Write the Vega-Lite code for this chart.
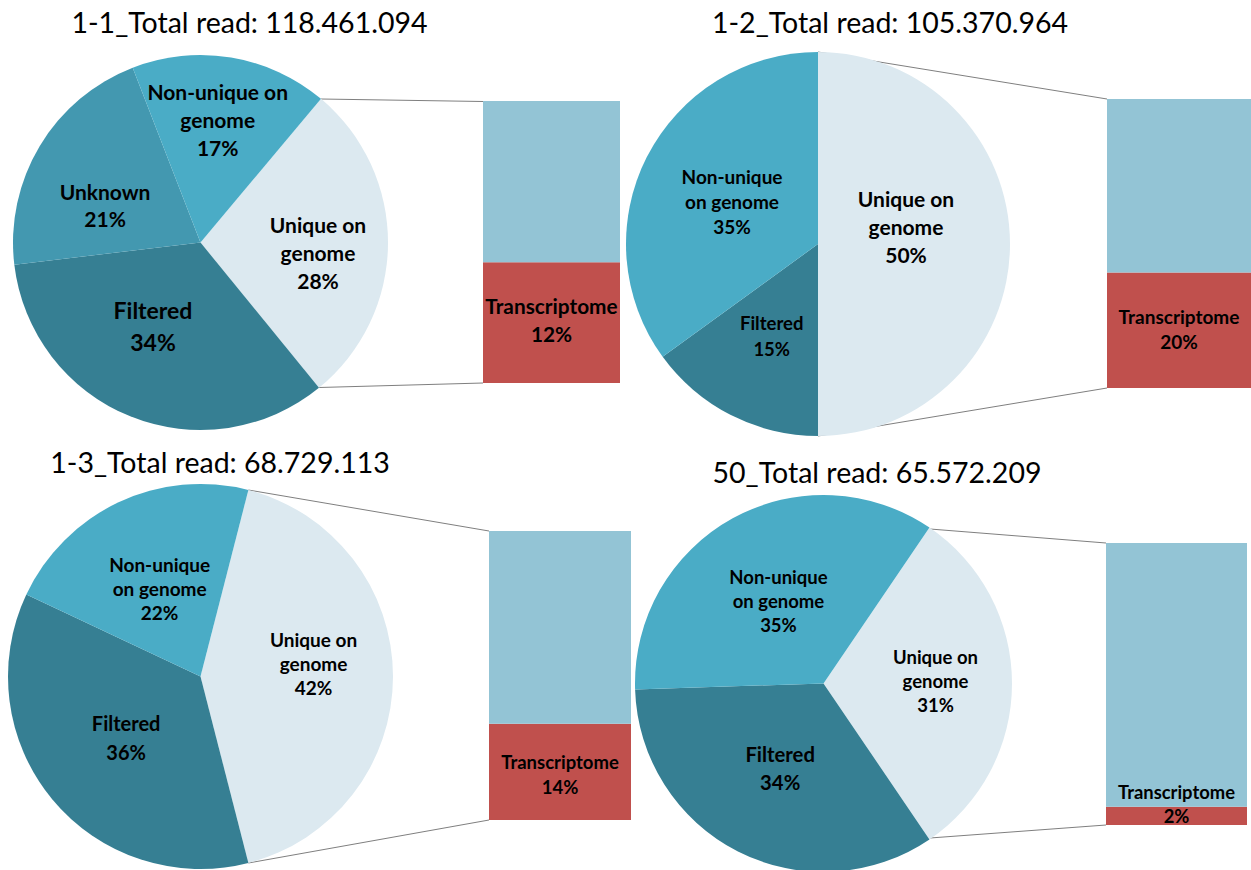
{
  "$schema": "https://vega.github.io/schema/vega-lite/v6.json",
  "padding": 0,
  "background": "white",
  "config": {"view": {"stroke": null}},
  "datasets": {
    "slices": [
      {"panel": "1-1", "cat": "Unique on genome", "value": 28, "ord": 1, "label": "Unique on\ngenome\n28%"},
      {"panel": "1-1", "cat": "Filtered", "value": 34, "ord": 2, "label": "Filtered\n34%"},
      {"panel": "1-1", "cat": "Unknown", "value": 21, "ord": 3, "label": "Unknown\n21%"},
      {"panel": "1-1", "cat": "Non-unique on genome", "value": 17, "ord": 4, "label": "Non-unique on\ngenome\n17%"},
      {"panel": "1-2", "cat": "Unique on genome", "value": 50, "ord": 1, "label": "Unique on\ngenome\n50%"},
      {"panel": "1-2", "cat": "Filtered", "value": 15, "ord": 2, "label": "Filtered\n15%"},
      {"panel": "1-2", "cat": "Non-unique on genome", "value": 35, "ord": 4, "label": "Non-unique\non genome\n35%"},
      {"panel": "1-3", "cat": "Unique on genome", "value": 42, "ord": 1, "label": "Unique on\ngenome\n42%"},
      {"panel": "1-3", "cat": "Filtered", "value": 36, "ord": 2, "label": "Filtered\n36%"},
      {"panel": "1-3", "cat": "Non-unique on genome", "value": 22, "ord": 4, "label": "Non-unique\non genome\n22%"},
      {"panel": "50", "cat": "Unique on genome", "value": 31, "ord": 1, "label": "Unique on\ngenome\n31%"},
      {"panel": "50", "cat": "Filtered", "value": 34, "ord": 2, "label": "Filtered\n34%"},
      {"panel": "50", "cat": "Non-unique on genome", "value": 35, "ord": 4, "label": "Non-unique\non genome\n35%"}
    ],
    "bars": [
      {"panel": "1-1", "cat": "Transcriptome", "value": 12, "ord": 1, "label": "Transcriptome\n12%"},
      {"panel": "1-1", "cat": "Other unique", "value": 16, "ord": 2, "label": ""},
      {"panel": "1-2", "cat": "Transcriptome", "value": 20, "ord": 1, "label": "Transcriptome\n20%"},
      {"panel": "1-2", "cat": "Other unique", "value": 30, "ord": 2, "label": ""},
      {"panel": "1-3", "cat": "Transcriptome", "value": 14, "ord": 1, "label": "Transcriptome\n14%"},
      {"panel": "1-3", "cat": "Other unique", "value": 28, "ord": 2, "label": ""},
      {"panel": "50", "cat": "Transcriptome", "value": 2, "ord": 1, "label": "Transcriptome\n2%"},
      {"panel": "50", "cat": "Other unique", "value": 29, "ord": 2, "label": ""}
    ]
  },
  "columns": 2,
  "spacing": 0,
  "bounds": "flush",
  "resolve": {"scale": {"x": "independent", "y": "independent", "theta": "independent"}},
  "concat": [
    {
      "width": 625, "height": 435,
      "resolve": {"scale": {"x": "independent", "y": "independent"}},
      "layer": [
        {
          "data": {"values": [{"title": "1-1_Total read: 118.461.094"}]},
          "layer": [
            {"mark": {"type": "rule", "color": "#7f7f7f", "strokeWidth": 1},
             "encoding": {
               "x": {"datum": 321, "type": "quantitative", "scale": {"domain": [0, 625], "nice": false, "zero": false}, "axis": null},
               "y": {"datum": 99, "type": "quantitative", "scale": {"domain": [0, 435], "nice": false, "zero": false, "reverse": true}, "axis": null},
               "x2": {"datum": 483}, "y2": {"datum": 101.5}}},
            {"mark": {"type": "rule", "color": "#7f7f7f", "strokeWidth": 1},
             "encoding": {
               "x": {"datum": 319, "type": "quantitative"},
               "y": {"datum": 387.5, "type": "quantitative"},
               "x2": {"datum": 483}, "y2": {"datum": 383}}},
            {"mark": {"type": "text", "font": "Lato", "fontSize": 28.5, "align": "center", "baseline": "alphabetic", "color": "#000000"},
             "encoding": {
               "x": {"datum": 249.5, "type": "quantitative"},
               "y": {"datum": 33, "type": "quantitative"},
               "text": {"field": "title"}}}
          ]
        },
        {
          "data": {"name": "slices"},
          "transform": [{"filter": "datum.panel === '1-1'"}],
          "encoding": {
            "x": {"field": "panel", "type": "nominal", "scale": {"type": "point", "range": [13, 388]}, "axis": null},
            "y": {"field": "panel", "type": "nominal", "scale": {"type": "point", "range": [55, 430]}, "axis": null},
            "theta": {"field": "value", "type": "quantitative", "stack": true, "scale": {"domain": [0, 100], "range": [0.6981, 6.9813]}},
            "order": {"field": "ord", "type": "quantitative"}
          },
          "layer": [
            {"mark": {"type": "arc", "outerRadius": 187.5},
             "encoding": {"color": {"field": "cat", "type": "nominal", "legend": null,
               "scale": {"domain": ["Unique on genome", "Non-unique on genome", "Unknown", "Filtered", "Other unique", "Transcriptome"],
                         "range": ["#dce9f0", "#4aacc6", "#4398b0", "#367f93", "#93c4d5", "#c0504d"]}}}},
            {"mark": {"type": "text", "font": "Lato", "fontWeight": "bold", "lineBreak": "\n", "align": "center", "baseline": "middle", "color": "#000000",
                      "fontSize": {"expr": "datum.cat === 'Filtered' ? 23 : 21"},
                      "lineHeight": {"expr": "datum.cat === 'Filtered' ? 31.5 : datum.cat === 'Unknown' ? 27 : 28"},
                      "radius": {"expr": "datum.cat === 'Unique on genome' ? 117.5 : datum.cat === 'Filtered' ? 97.5 : datum.cat === 'Unknown' ? 102 : 123.7"},
                      "dx": {"expr": "datum.cat === 'Filtered' ? -11 : datum.cat === 'Unknown' ? -8 : datum.cat === 'Non-unique on genome' ? -3 : 0"},
                      "dy": {"expr": "datum.cat === 'Unique on genome' ? -16.5 : datum.cat === 'Filtered' ? -20.5 : datum.cat === 'Unknown' ? 4 : -26"}},
             "encoding": {"text": {"field": "label"}, "detail": {"field": "cat"}}}
          ]
        },
        {
          "data": {"name": "bars"},
          "transform": [{"filter": "datum.panel === '1-1'"}],
          "encoding": {
            "x": {"field": "panel", "type": "nominal", "scale": {"type": "band", "range": [483, 620], "paddingInner": 0, "paddingOuter": 0}, "axis": null},
            "y": {"field": "value", "type": "quantitative", "stack": "zero", "scale": {"domain": [0, 28], "range": [383, 101], "nice": false, "zero": false}, "axis": null},
            "order": {"field": "ord", "type": "quantitative"}
          },
          "layer": [
            {"mark": {"type": "bar"},
             "encoding": {"color": {"field": "cat", "type": "nominal", "legend": null,
               "scale": {"domain": ["Unique on genome", "Non-unique on genome", "Unknown", "Filtered", "Other unique", "Transcriptome"],
                         "range": ["#dce9f0", "#4aacc6", "#4398b0", "#367f93", "#93c4d5", "#c0504d"]}}}},
            {"mark": {"type": "text", "font": "Lato", "fontWeight": "bold", "lineBreak": "\n", "align": "center", "baseline": "middle", "color": "#000000", "fontSize": 20.8, "lineHeight": 28, "dy": -15},
             "encoding": {
               "y": {"field": "value", "type": "quantitative", "stack": "zero", "bandPosition": 0.5},
               "detail": {"field": "cat"},
               "text": {"field": "label"}}}
          ]
        }
      ]
    },
    {
      "width": 626, "height": 435,
      "resolve": {"scale": {"x": "independent", "y": "independent"}},
      "layer": [
        {
          "data": {"values": [{"title": "1-2_Total read: 105.370.964"}]},
          "layer": [
            {"mark": {"type": "rule", "color": "#7f7f7f", "strokeWidth": 1},
             "encoding": {
               "x": {"datum": 818, "type": "quantitative", "scale": {"domain": [625, 1251], "nice": false, "zero": false}, "axis": null},
               "y": {"datum": 52, "type": "quantitative", "scale": {"domain": [0, 435], "nice": false, "zero": false, "reverse": true}, "axis": null},
               "x2": {"datum": 1107}, "y2": {"datum": 99}}},
            {"mark": {"type": "rule", "color": "#7f7f7f", "strokeWidth": 1},
             "encoding": {
               "x": {"datum": 818, "type": "quantitative"},
               "y": {"datum": 436, "type": "quantitative"},
               "x2": {"datum": 1107}, "y2": {"datum": 388}}},
            {"mark": {"type": "text", "font": "Lato", "fontSize": 28.5, "align": "center", "baseline": "alphabetic", "color": "#000000"},
             "encoding": {
               "x": {"datum": 890, "type": "quantitative"},
               "y": {"datum": 33, "type": "quantitative"},
               "text": {"field": "title"}}}
          ]
        },
        {
          "data": {"name": "slices"},
          "transform": [{"filter": "datum.panel === '1-2'"}],
          "encoding": {
            "x": {"field": "panel", "type": "nominal", "scale": {"type": "point", "range": [1, 385]}, "axis": null},
            "y": {"field": "panel", "type": "nominal", "scale": {"type": "point", "range": [52, 436]}, "axis": null},
            "theta": {"field": "value", "type": "quantitative", "stack": true, "scale": {"domain": [0, 100], "range": [0, 6.2832]}},
            "order": {"field": "ord", "type": "quantitative"}
          },
          "layer": [
            {"mark": {"type": "arc", "outerRadius": 192},
             "encoding": {"color": {"field": "cat", "type": "nominal", "legend": null,
               "scale": {"domain": ["Unique on genome", "Non-unique on genome", "Unknown", "Filtered", "Other unique", "Transcriptome"],
                         "range": ["#dce9f0", "#4aacc6", "#4398b0", "#367f93", "#93c4d5", "#c0504d"]}}}},
            {"mark": {"type": "text", "font": "Lato", "fontWeight": "bold", "lineBreak": "\n", "align": "center", "baseline": "middle", "color": "#000000",
                      "fontSize": {"expr": "datum.cat === 'Unique on genome' ? 21 : datum.cat === 'Filtered' ? 18.5 : 19"},
                      "lineHeight": {"expr": "datum.cat === 'Unique on genome' ? 28 : datum.cat === 'Filtered' ? 25.7 : 25"},
                      "radius": {"expr": "datum.cat === 'Unique on genome' ? 88 : datum.cat === 'Filtered' ? 102 : 96.5"},
                      "dy": {"expr": "datum.cat === 'Unique on genome' ? -43 : datum.cat === 'Filtered' ? -11 : -22.5"}},
             "encoding": {"text": {"field": "label"}, "detail": {"field": "cat"}}}
          ]
        },
        {
          "data": {"name": "bars"},
          "transform": [{"filter": "datum.panel === '1-2'"}],
          "encoding": {
            "x": {"field": "panel", "type": "nominal", "scale": {"type": "band", "range": [482, 626], "paddingInner": 0, "paddingOuter": 0}, "axis": null},
            "y": {"field": "value", "type": "quantitative", "stack": "zero", "scale": {"domain": [0, 50], "range": [388, 99], "nice": false, "zero": false}, "axis": null},
            "order": {"field": "ord", "type": "quantitative"}
          },
          "layer": [
            {"mark": {"type": "bar"},
             "encoding": {"color": {"field": "cat", "type": "nominal", "legend": null,
               "scale": {"domain": ["Unique on genome", "Non-unique on genome", "Unknown", "Filtered", "Other unique", "Transcriptome"],
                         "range": ["#dce9f0", "#4aacc6", "#4398b0", "#367f93", "#93c4d5", "#c0504d"]}}}},
            {"mark": {"type": "text", "font": "Lato", "fontWeight": "bold", "lineBreak": "\n", "align": "center", "baseline": "middle", "color": "#000000", "fontSize": 19, "lineHeight": 25.6, "dy": -12.3},
             "encoding": {
               "y": {"field": "value", "type": "quantitative", "stack": "zero", "bandPosition": 0.5},
               "detail": {"field": "cat"},
               "text": {"field": "label"}}}
          ]
        }
      ]
    },
    {
      "width": 625, "height": 435,
      "resolve": {"scale": {"x": "independent", "y": "independent"}},
      "layer": [
        {
          "data": {"values": [{"title": "1-3_Total read: 68.729.113"}]},
          "layer": [
            {"mark": {"type": "rule", "color": "#7f7f7f", "strokeWidth": 1},
             "encoding": {
               "x": {"datum": 248.4, "type": "quantitative", "scale": {"domain": [0, 625], "nice": false, "zero": false}, "axis": null},
               "y": {"datum": 490, "type": "quantitative", "scale": {"domain": [435, 870], "nice": false, "zero": false, "reverse": true}, "axis": null},
               "x2": {"datum": 489}, "y2": {"datum": 531}}},
            {"mark": {"type": "rule", "color": "#7f7f7f", "strokeWidth": 1},
             "encoding": {
               "x": {"datum": 248.4, "type": "quantitative"},
               "y": {"datum": 863, "type": "quantitative"},
               "x2": {"datum": 489}, "y2": {"datum": 820}}},
            {"mark": {"type": "text", "font": "Lato", "fontSize": 28.5, "align": "center", "baseline": "alphabetic", "color": "#000000"},
             "encoding": {
               "x": {"datum": 220, "type": "quantitative"},
               "y": {"datum": 473, "type": "quantitative"},
               "text": {"field": "title"}}}
          ]
        },
        {
          "data": {"name": "slices"},
          "transform": [{"filter": "datum.panel === '1-3'"}],
          "encoding": {
            "x": {"field": "panel", "type": "nominal", "scale": {"type": "point", "range": [8, 393]}, "axis": null},
            "y": {"field": "panel", "type": "nominal", "scale": {"type": "point", "range": [49, 434]}, "axis": null},
            "theta": {"field": "value", "type": "quantitative", "stack": true, "scale": {"domain": [0, 100], "range": [0.2513, 6.5345]}},
            "order": {"field": "ord", "type": "quantitative"}
          },
          "layer": [
            {"mark": {"type": "arc", "outerRadius": 192.5},
             "encoding": {"color": {"field": "cat", "type": "nominal", "legend": null,
               "scale": {"domain": ["Unique on genome", "Non-unique on genome", "Unknown", "Filtered", "Other unique", "Transcriptome"],
                         "range": ["#dce9f0", "#4aacc6", "#4398b0", "#367f93", "#93c4d5", "#c0504d"]}}}},
            {"mark": {"type": "text", "font": "Lato", "fontWeight": "bold", "lineBreak": "\n", "align": "center", "baseline": "middle", "color": "#000000",
                      "fontSize": {"expr": "datum.cat === 'Filtered' ? 20 : 19"},
                      "lineHeight": {"expr": "datum.cat === 'Filtered' ? 28.5 : 24"},
                      "radius": {"expr": "datum.cat === 'Unique on genome' ? 113 : datum.cat === 'Filtered' ? 96.5 : 96"},
                      "dy": {"expr": "datum.cat === 'Unique on genome' ? -35.5 : datum.cat === 'Filtered' ? -13 : -24"}},
             "encoding": {"text": {"field": "label"}, "detail": {"field": "cat"}}}
          ]
        },
        {
          "data": {"name": "bars"},
          "transform": [{"filter": "datum.panel === '1-3'"}],
          "encoding": {
            "x": {"field": "panel", "type": "nominal", "scale": {"type": "band", "range": [489, 631], "paddingInner": 0, "paddingOuter": 0}, "axis": null},
            "y": {"field": "value", "type": "quantitative", "stack": "zero", "scale": {"domain": [0, 42], "range": [385, 96], "nice": false, "zero": false}, "axis": null},
            "order": {"field": "ord", "type": "quantitative"}
          },
          "layer": [
            {"mark": {"type": "bar"},
             "encoding": {"color": {"field": "cat", "type": "nominal", "legend": null,
               "scale": {"domain": ["Unique on genome", "Non-unique on genome", "Unknown", "Filtered", "Other unique", "Transcriptome"],
                         "range": ["#dce9f0", "#4aacc6", "#4398b0", "#367f93", "#93c4d5", "#c0504d"]}}}},
            {"mark": {"type": "text", "font": "Lato", "fontWeight": "bold", "lineBreak": "\n", "align": "center", "baseline": "middle", "color": "#000000", "fontSize": 18.5, "lineHeight": 25, "dy": -9.3},
             "encoding": {
               "y": {"field": "value", "type": "quantitative", "stack": "zero", "bandPosition": 0.5},
               "detail": {"field": "cat"},
               "text": {"field": "label"}}}
          ]
        }
      ]
    },
    {
      "width": 626, "height": 435,
      "resolve": {"scale": {"x": "independent", "y": "independent"}},
      "layer": [
        {
          "data": {"values": [{"title": "50_Total read: 65.572.209"}]},
          "layer": [
            {"mark": {"type": "rule", "color": "#7f7f7f", "strokeWidth": 1},
             "encoding": {
               "x": {"datum": 930, "type": "quantitative", "scale": {"domain": [625, 1251], "nice": false, "zero": false}, "axis": null},
               "y": {"datum": 529, "type": "quantitative", "scale": {"domain": [435, 870], "nice": false, "zero": false, "reverse": true}, "axis": null},
               "x2": {"datum": 1106}, "y2": {"datum": 543}}},
            {"mark": {"type": "rule", "color": "#7f7f7f", "strokeWidth": 1},
             "encoding": {
               "x": {"datum": 930, "type": "quantitative"},
               "y": {"datum": 838, "type": "quantitative"},
               "x2": {"datum": 1106}, "y2": {"datum": 825}}},
            {"mark": {"type": "text", "font": "Lato", "fontSize": 28.5, "align": "center", "baseline": "alphabetic", "color": "#000000"},
             "encoding": {
               "x": {"datum": 877, "type": "quantitative"},
               "y": {"datum": 483, "type": "quantitative"},
               "text": {"field": "title"}}}
          ]
        },
        {
          "data": {"name": "slices"},
          "transform": [{"filter": "datum.panel === '50'"}],
          "encoding": {
            "x": {"field": "panel", "type": "nominal", "scale": {"type": "point", "range": [10, 387]}, "axis": null},
            "y": {"field": "panel", "type": "nominal", "scale": {"type": "point", "range": [60, 437]}, "axis": null},
            "theta": {"field": "value", "type": "quantitative", "stack": true, "scale": {"domain": [0, 100], "range": [0.5969, 6.8801]}},
            "order": {"field": "ord", "type": "quantitative"}
          },
          "layer": [
            {"mark": {"type": "arc", "outerRadius": 188.5},
             "encoding": {"color": {"field": "cat", "type": "nominal", "legend": null,
               "scale": {"domain": ["Unique on genome", "Non-unique on genome", "Unknown", "Filtered", "Other unique", "Transcriptome"],
                         "range": ["#dce9f0", "#4aacc6", "#4398b0", "#367f93", "#93c4d5", "#c0504d"]}}}},
            {"mark": {"type": "text", "font": "Lato", "fontWeight": "bold", "lineBreak": "\n", "align": "center", "baseline": "middle", "color": "#000000",
                      "fontSize": {"expr": "datum.cat === 'Filtered' ? 20.3 : 18.5"},
                      "lineHeight": {"expr": "datum.cat === 'Filtered' ? 27.7 : 24"},
                      "radius": {"expr": "datum.cat === 'Unique on genome' ? 112 : datum.cat === 'Filtered' ? 95.4 : 93.5"},
                      "dy": {"expr": "datum.cat === 'Unique on genome' ? -25.5 : datum.cat === 'Filtered' ? -12.5 : -23.5"}},
             "encoding": {"text": {"field": "label"}, "detail": {"field": "cat"}}}
          ]
        },
        {
          "data": {"name": "bars"},
          "transform": [{"filter": "datum.panel === '50'"}],
          "encoding": {
            "x": {"field": "panel", "type": "nominal", "scale": {"type": "band", "range": [481, 622], "paddingInner": 0, "paddingOuter": 0}, "axis": null},
            "y": {"field": "value", "type": "quantitative", "stack": "zero", "scale": {"domain": [0, 31], "range": [390, 108], "nice": false, "zero": false}, "axis": null},
            "order": {"field": "ord", "type": "quantitative"}
          },
          "layer": [
            {"mark": {"type": "bar"},
             "encoding": {"color": {"field": "cat", "type": "nominal", "legend": null,
               "scale": {"domain": ["Unique on genome", "Non-unique on genome", "Unknown", "Filtered", "Other unique", "Transcriptome"],
                         "range": ["#dce9f0", "#4aacc6", "#4398b0", "#367f93", "#93c4d5", "#c0504d"]}}}},
            {"mark": {"type": "text", "font": "Lato", "fontWeight": "bold", "lineBreak": "\n", "align": "center", "baseline": "middle", "color": "#000000", "fontSize": 18.4, "lineHeight": 24, "dy": -22.5},
             "encoding": {
               "y": {"field": "value", "type": "quantitative", "stack": "zero", "bandPosition": 0.5},
               "detail": {"field": "cat"},
               "text": {"field": "label"}}}
          ]
        }
      ]
    }
  ]
}
